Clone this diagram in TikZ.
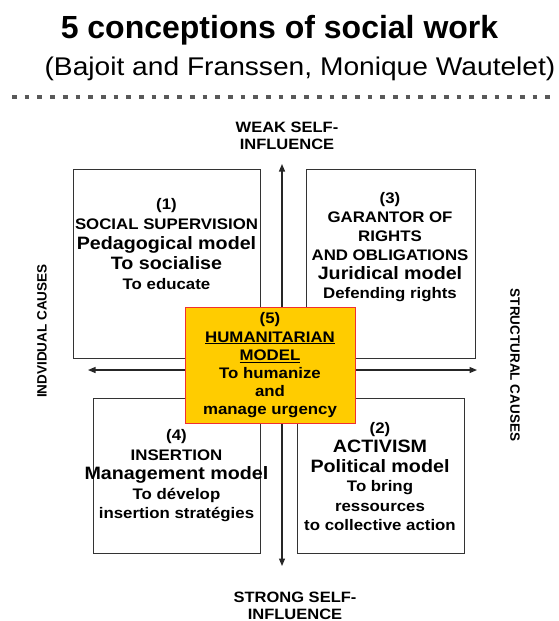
\documentclass[tikz,border=0pt]{standalone}
\usepackage{fontspec}
\setmainfont{Liberation Sans}[FakeStretch=1.1]
\newfontfamily\plainsans{Liberation Sans}
\usetikzlibrary{arrows.meta}
\definecolor{gold}{HTML}{FFCC00}
\definecolor{redline}{HTML}{F03030}
\newcommand{\bigline}[1]{{\fontsize{17.9}{19}\selectfont #1}}
\begin{document}
\begin{tikzpicture}[x=1pt, y=-1pt,
  box/.style={draw=black!80, line width=0.9pt, fill=white},
  txt/.style={font=\bfseries\fontsize{15.3}{19.5}\selectfont, align=center, inner sep=0pt},
  sidelbl/.style={font=\plainsans\bfseries\fontsize{13.5}{16}\selectfont, inner sep=0pt},
  axis/.style={{Triangle[length=7.5pt,width=6pt]}-{Triangle[length=7.5pt,width=6pt]}, draw=black!85, line width=1.2pt}]
\useasboundingbox (0,0) rectangle (559,621);

\node[font=\plainsans\bfseries\fontsize{32}{36}\selectfont, anchor=base] (title) at (279.5,38) {5 conceptions of social work};
\node[font=\fontsize{25.6}{28}\selectfont, anchor=base] (authors) at (300,75) {(Bajoit and Franssen, Monique Wautelet)};
\coordinate (dotl) at (12,97);
\coordinate (dotr) at (553,97);
\draw[black!65, line width=4.7pt, dash pattern=on 4.7pt off 8pt] (dotl) -- (dotr);

% axes
\coordinate (weak) at (282,164);
\coordinate (strong) at (282,566);
\coordinate (indiv) at (88,370);
\coordinate (struct) at (477,370);
\draw[axis] (weak) -- (strong);
\draw[axis] (indiv) -- (struct);

\node[txt, font=\bfseries\fontsize{15}{17}\selectfont] (weaklbl) at (287,135.5) {WEAK SELF-\\INFLUENCE};
\node[txt, font=\bfseries\fontsize{15}{17}\selectfont] (stronglbl) at (295,605.5) {STRONG SELF-\\INFLUENCE};
\node[sidelbl, rotate=90] (indivlbl) at (42,331) {INDVIDUAL CAUSES};
\node[sidelbl, rotate=-90] (structlbl) at (515,365) {STRUCTURAL CAUSES};

% the four quadrants
\node[box, minimum width=187, minimum height=189] (sup) at (166.5,263.5) {};
\node[box, minimum width=169, minimum height=189] (gar) at (390.5,263.5) {};
\node[box, minimum width=167, minimum height=155] (ins) at (176.5,475.5) {};
\node[box, minimum width=167, minimum height=155] (act) at (380.5,475.5) {};

\node[txt, font=\bfseries\fontsize{15.3}{20}\selectfont] (suptxt) at (166.5,244) {(1)\\SOCIAL SUPERVISION\\\bigline{Pedagogical model}\\\bigline{To socialise}\\To educate};
\node[txt, font=\bfseries\fontsize{15.3}{19}\selectfont] (gartxt) at (390,247.5) {(3)\\GARANTOR OF\\RIGHTS\\AND OBLIGATIONS\\\bigline{Juridical model}\\Defending rights};
\node[txt] (instxt) at (176.5,476) {(4)\\INSERTION\\\bigline{Management model}\\To dévelop\\insertion stratégies};
\node[txt] (acttxt) at (380,476.5) {(2)\\\bigline{ACTIVISM}\\\bigline{Political model}\\To bring\\ressources\\to collective action};

% centre
\node[box, draw=redline, fill=gold, minimum width=170, minimum height=116] (hum) at (270,365) {};
\node[txt, font=\bfseries\fontsize{15.3}{18.2}\selectfont] (humtxt) at (270,365.5) {(5)\\\underline{HUMANITARIAN}\\\underline{MODEL}\\To humanize\\and\\manage urgency};
\end{tikzpicture}
\end{document}
